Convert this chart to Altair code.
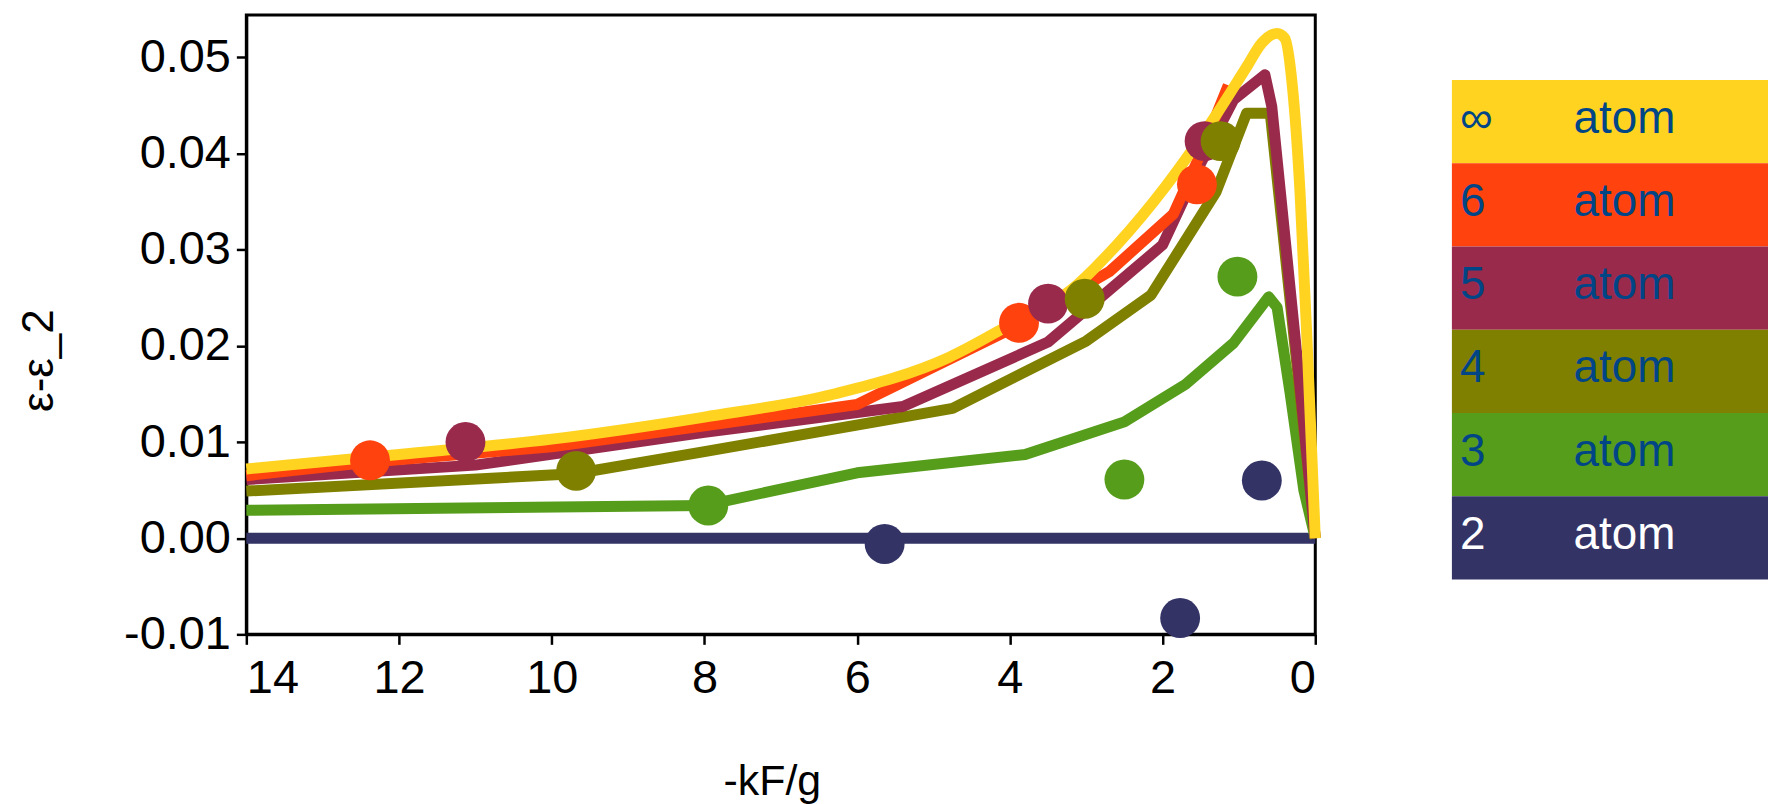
import altair as alt
import pandas as pd

FONT = "Liberation Sans"

# ---- series: legend labels and colours ----
series_names = ["∞", "6", "5", "4", "3", "2"]
series_colors = ["#FFD320", "#FF420E", "#9A2A4C", "#808000", "#579D1C", "#333366"]
legend_text_colors = ["#004586", "#004586", "#004586", "#004586", "#004586", "#FFFFFF"]
legend_word = ["atom", "atom", "atom", "atom", "atom", "atom"]

# ---- lines (x = -kF/g, y = eps - eps_2) ----
x_inf = [14, 12, 10, 8, 6.3, 4.8, 4.0, 3.2, 2.6, 1.95, 1.3, 0.9, 0.7, 0.5, 0.4, 0.3, 0.2, 0.1, 0]
y_inf = [0.0072, 0.0087, 0.0103, 0.0126, 0.0150, 0.0188, 0.0222, 0.0258, 0.0305, 0.0367,
         0.0440, 0.0490, 0.0515, 0.0525, 0.0520, 0.0470, 0.0360, 0.0190, 0.0]

x_6 = [14, 12.4, 10, 8, 6, 4.0, 2.7, 1.86, 1.5, 1.14]
y_6 = [0.0065, 0.0079, 0.0095, 0.0117, 0.0139, 0.0217, 0.0277, 0.0337, 0.0400, 0.0471]

x_5 = [14, 11, 8, 5.4, 3.5, 2.0, 1.5, 1.07, 0.66, 0.57, 0]
y_5 = [0.0061, 0.0076, 0.0110, 0.0137, 0.0204, 0.0305, 0.0390, 0.0456, 0.0482, 0.0449, 0.0]

x_4 = [14, 9.7, 8, 4.75, 3.0, 2.15, 1.3, 0.9, 0.59, 0]
y_4 = [0.0049, 0.0067, 0.0090, 0.0135, 0.0205, 0.0253, 0.0360, 0.0442, 0.0442, 0.0]

x_3 = [14, 8, 6, 3.8, 2.5, 1.7, 1.07, 0.61, 0.5, 0.33, 0.15, 0]
y_3 = [0.0029, 0.0034, 0.0068, 0.0087, 0.0121, 0.0160, 0.0203, 0.0251, 0.0240, 0.0151, 0.0050, 0.0]

x_2 = [14, 0]
y_2 = [0.0, 0.0]

# ---- points ----
px_6 = [12.38, 3.88, 1.55]
py_6 = [0.0081, 0.0224, 0.0368]
px_5 = [11.13, 3.50, 1.45]
py_5 = [0.0100, 0.0244, 0.0413]
px_4 = [9.68, 3.02, 1.24]
py_4 = [0.0070, 0.0249, 0.0413]
px_3 = [7.95, 2.50, 1.02]
py_3 = [0.0034, 0.0061, 0.0272]
px_2 = [5.64, 1.77, 0.70]
py_2 = [-0.0006, -0.0083, 0.0060]

x_ticks = [0, 2, 4, 6, 8, 10, 12, 14]
y_ticks = [-0.01, 0.0, 0.01, 0.02, 0.03, 0.04, 0.05]

color_of = dict(zip(series_names, series_colors))

x_enc = alt.X(
    "x:Q",
    scale=alt.Scale(domain=[0, 14], reverse=True, nice=False, zero=False),
    axis=alt.Axis(
        values=x_ticks, format="d", labelFontSize=47, tickSize=10, tickWidth=2.5,
        domainWidth=3, labelPadding=11, title="-kF/g", titleFontSize=43,
        titleX=527, titleY=148, titleAlign="center", titleBaseline="middle",
    ),
)
y_enc = alt.Y(
    "y:Q",
    scale=alt.Scale(domain=[-0.01, 0.0544], nice=False, zero=False),
    axis=alt.Axis(
        values=y_ticks,
        labelExpr="replace(format(datum.value, '.2f'), '\u2212', '-')",
        labelFontSize=47, tickSize=10, tickWidth=2.5, domainWidth=3, labelPadding=6,
        title="ε-ε_2", titleFontSize=44, titleAngle=270,
        titleX=-207, titleY=346, titleAlign="center", titleBaseline="middle",
    ),
)

line_series = [
    ("2", x_2, y_2), ("3", x_3, y_3), ("4", x_4, y_4),
    ("5", x_5, y_5), ("6", x_6, y_6), ("∞", x_inf, y_inf),
]
point_series = [
    ("6", px_6, py_6), ("5", px_5, py_5), ("4", px_4, py_4),
    ("3", px_3, py_3), ("2", px_2, py_2),
]

layers = []
for name, xs, ys in line_series:
    df = pd.DataFrame({"x": xs, "y": ys})
    interp = "monotone" if name == "∞" else "linear"
    layers.append(
        alt.Chart(df).mark_line(
            strokeWidth=11, color=color_of[name], interpolate=interp, strokeJoin="round"
        ).encode(x=x_enc, y=y_enc)
    )
for name, xs, ys in point_series:
    df = pd.DataFrame({"x": xs, "y": ys})
    layers.append(
        alt.Chart(df).mark_circle(size=1600, opacity=1, color=color_of[name]).encode(
            x=x_enc, y=y_enc
        )
    )

main = alt.layer(*layers).properties(
    width=1072, height=621,
    view=alt.ViewBackground(stroke="black", strokeWidth=3),
)

legend_df = pd.DataFrame({
    "label": series_names,
    "color": series_colors,
    "tcolor": legend_text_colors,
    "word": legend_word,
})
y_leg = alt.Y(
    "label:N", sort=series_names,
    scale=alt.Scale(range=[65, 566], paddingInner=0, paddingOuter=0),
    axis=None,
)
leg_rect = alt.Chart(legend_df).mark_rect().encode(
    y=y_leg, x=alt.value(0), x2=alt.value(317),
    color=alt.Color("color:N", scale=None),
)
leg_num = alt.Chart(legend_df).mark_text(
    align="left", baseline="middle", fontSize=46, font=FONT, dy=-3
).encode(y=y_leg, x=alt.value(8), text="label:N", color=alt.Color("tcolor:N", scale=None))
leg_word = alt.Chart(legend_df).mark_text(
    align="left", baseline="middle", fontSize=46, font=FONT, dy=-3
).encode(y=y_leg, x=alt.value(122), text="word:N", color=alt.Color("tcolor:N", scale=None))

legend = alt.layer(leg_rect, leg_num, leg_word).properties(
    width=317, height=621,
    view=alt.ViewBackground(fill="white", stroke="white", strokeOpacity=0),
)

chart = alt.hconcat(main, legend, spacing=130).properties(
    padding={"left": 8, "top": 4, "right": 0, "bottom": 0},
    background="white",
).configure_axis(
    labelFont=FONT, titleFont=FONT, labelColor="black", titleColor="black",
    domainColor="black", tickColor="black", grid=False, titleFontWeight="normal",
).configure_view(strokeWidth=0)

chart.save("out.html", embed_options={"renderer": "svg", "actions": False})
